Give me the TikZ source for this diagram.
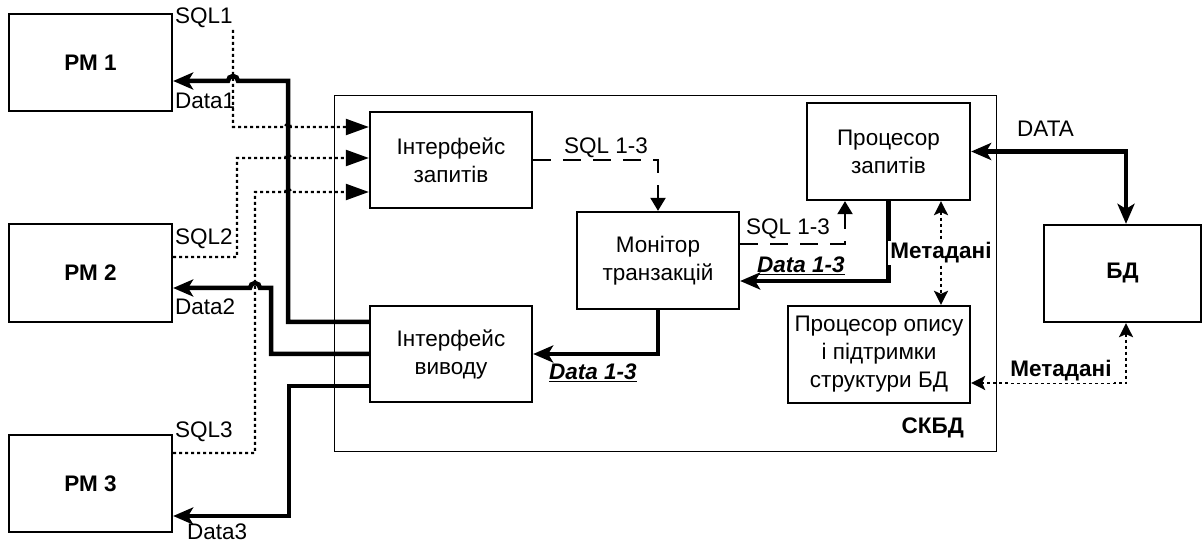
\documentclass[tikz,border=0pt]{standalone}
\usepackage{fontspec}
\setmainfont{Liberation Sans}
\usepackage{tikz}
\usetikzlibrary{arrows.meta}
\tikzstyle{block} = [rectangle, draw=black, line width=2.3pt, minimum width=162pt, minimum height=97pt, align=center, inner sep=2pt]
\tikzstyle{pm} = [block, minimum width=163pt, font=\bfseries\fontsize{22.5}{28}\selectfont]
\tikzstyle{frame} = [rectangle, draw=black, line width=0.8pt, minimum width=662pt, minimum height=356pt]
\tikzstyle{sqlline} = [line width=2.2pt, dash pattern=on 3pt off 3pt, -{Triangle[length=23pt,width=16pt]}]
\tikzstyle{sqldash} = [line width=2.2pt, dash pattern=on 18pt off 12pt, -{Triangle[length=13pt,width=15pt]}]
\tikzstyle{dataline} = [line width=4.5pt, -{Stealth[length=20pt,width=17pt,inset=5pt]}]
\tikzstyle{datapair} = [line width=4.5pt, {Stealth[length=20pt,width=17pt,inset=5pt]}-{Stealth[length=20pt,width=17pt,inset=5pt]}]
\tikzstyle{metaline} = [line width=2.2pt, dash pattern=on 3pt off 3pt, {Stealth[length=14pt,width=14pt,inset=3pt]}-{Stealth[length=14pt,width=14pt,inset=3pt]}]
\tikzstyle{lbl} = [inner sep=0pt, anchor=base west]
\tikzstyle{meta} = [fill=white, inner sep=2pt, font=\bfseries\fontsize{22.5}{28}\selectfont]

\begin{document}
\begin{tikzpicture}[x=1pt, y=1pt, font=\fontsize{22.5}{28}\selectfont]
	\useasboundingbox (0,0) rectangle (1203,-545);
	
	\node (dbms) [frame] at (665,-273) {};
	\node (dbmsname) [lbl, anchor=base east, font=\bfseries\fontsize{22.5}{28}\selectfont] at (964,-434) {СКБД};
	
	\node (pm1) [pm] at (90.5,-62.5) {РМ 1};
	\node (pm2) [pm, minimum height=98pt] at (90.5,-273) {РМ 2};
	\node (pm3) [pm] at (90.5,-483.5) {РМ 3};
	
	\node (qin) [block, minimum height=96pt] at (451,-160) {Інтерфейс\\запитів};
	\node (qout) [block, minimum height=96pt] at (451,-354) {Інтерфейс\\виводу};
	\node (mon) [block] at (658,-260.5) {Монітор\\транзакцій};
	\node (qproc) [block, minimum width=163pt] at (888.5,-151.5) {Процесор\\запитів};
	\node (sproc) [block, minimum width=182pt] at (879,-354.5) {Процесор опису\\і підтримки\\структури БД};
	\node (db) [block, minimum width=157pt, font=\bfseries\fontsize{22.5}{28}\selectfont] at (1122.5,-273.5) {БД};
	
	\node (sql1) [lbl] at (175,-24) {SQL1};
	\node (data1) [lbl] at (175,-109) {Data1};
	\node (sql2) [lbl] at (175,-245) {SQL2};
	\node (data2) [lbl] at (175,-315) {Data2};
	\node (sql3) [lbl] at (175,-438) {SQL3};
	\node (data3) [lbl] at (187,-539) {Data3};
	\coordinate (s1) at (233,-30);
	
	\draw [sqlline] (s1) -- (233,-127) -- (285,-127) arc[start angle=180, end angle=0, radius=3] -- ([yshift=33]qin.west);
	\draw [sqlline] ([yshift=16]pm2.east) -- (237,-257) -- (237,-158) -- (285,-158) arc[start angle=180, end angle=0, radius=3] -- ([yshift=2]qin.west);
	\draw [sqlline] ([yshift=30.5]pm3.east) -- (255,-453) -- (255,-192) -- (285,-192) arc[start angle=180, end angle=0, radius=3] -- ([yshift=-32]qin.west);
	
	\draw [dataline] ([yshift=32]qout.west) -- (288,-322) -- (288,-81) -- (238,-81) arc[start angle=0, end angle=180, radius=5] -- ([yshift=-18.5]pm1.east);
	\draw [dataline] (qout.west) -- (271,-354) -- (271,-288) -- (260,-288) arc[start angle=0, end angle=180, radius=5] -- ([yshift=-15]pm2.east);
	\draw [dataline] ([yshift=-32]qout.west) -- (289,-386) -- (289,-516) -- ([yshift=-32.5]pm3.east);
	
	\draw [sqldash] (qin.east) -| (mon.north);
	\node (sqlall1) [lbl] at (564,-154) {SQL 1-3};
	\draw [sqldash] ([yshift=16.5]mon.east) -| ([xshift=-43.5]qproc.south);
	\node (sqlall2) [lbl] at (746,-235) {SQL 1-3};
	
	\draw [dataline] (qproc.south) |- ([yshift=-20.5]mon.east);
	\node (dataall2) [lbl] at (757,-273) {\underline{\textbf{\textit{Data 1-3}}}};
	\draw [dataline] (mon.south) |- (qout.east);
	\node (dataall1) [lbl] at (549,-380) {\underline{\textbf{\textit{Data 1-3}}}};
	
	\draw [metaline] ([xshift=52.5]qproc.south) -- ([xshift=62]sproc.north);
	\node (meta1) [meta] at (941,-253) {Метадані};
	
	\draw [datapair] (qproc.east) -| ([xshift=3.5]db.north);
	\node (dataname) [lbl] at (1017,-137) {DATA};
	
	\draw [metaline] ([xshift=3.5]db.south) |- ([yshift=-28.5]sproc.east);
	\node (meta2) [meta, anchor=base, text depth=4pt] at (1061,-377) {Метадані};
	
\end{tikzpicture}
\end{document}
